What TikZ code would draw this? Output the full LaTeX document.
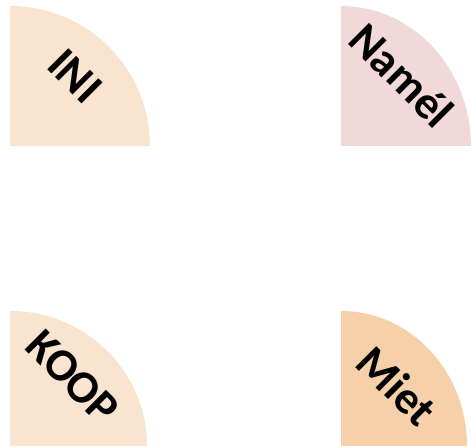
\documentclass[tikz,border=0pt]{standalone}
\usepackage{fontspec}
\setmainfont{Carlito}
\begin{document}
\begin{tikzpicture}[x=1pt,y=1pt,
  lbl/.style={font=\bfseries\fontsize{46}{46}\selectfont, rotate=-45, inner sep=0pt, text=black}]
\useasboundingbox (0,0) rectangle (471,446);
\definecolor{peach}{HTML}{F9E4D0}
\definecolor{rose}{HTML}{F1D9DA}
\definecolor{apricot}{HTML}{F5D0A8}
\begin{scope}
\clip (0,0) rectangle (471,446);
\fill[peach] (10,300) -- (10,440) arc[start angle=90,end angle=0,x radius=140,y radius=140] -- cycle;
\fill[rose] (341,300) -- (341,440) arc[start angle=90,end angle=0,x radius=130,y radius=140] -- cycle;
\fill[peach] (10,0) -- (10,135) arc[start angle=90,end angle=0,x radius=137,y radius=135] -- cycle;
\fill[apricot] (341,0) -- (341,135) arc[start angle=90,end angle=0,x radius=126,y radius=135] -- cycle;
\end{scope}
\node[lbl] (ini) at (75,370) {INI};
\node[lbl] (namel) at (402,371) {Namél};
\node[lbl] (koop) at (73,69) {KOOP};
\node[lbl] (miet) at (397,60) {Miet};
\end{tikzpicture}
\end{document}
